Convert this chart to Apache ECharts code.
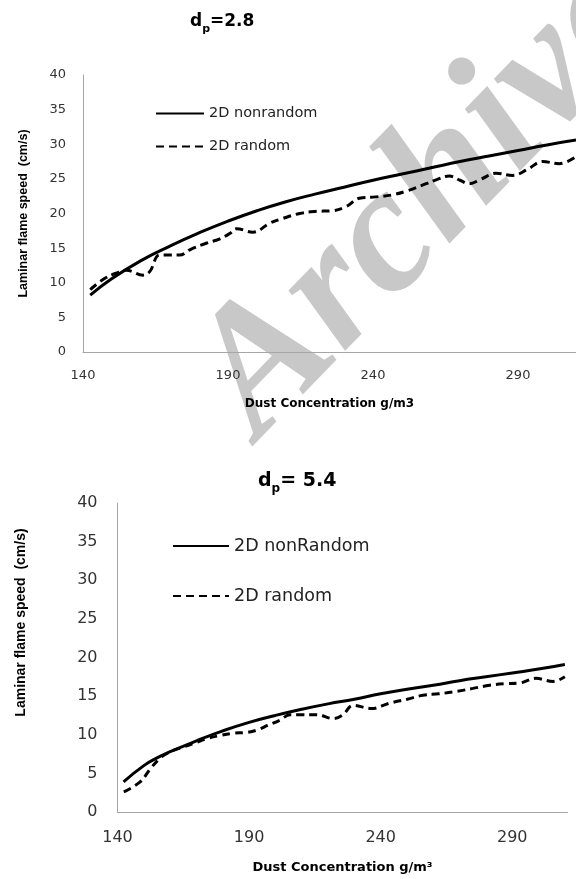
<!DOCTYPE html>
<html>
<head>
<meta charset="utf-8">
<script src="https://cdn.jsdelivr.net/npm/echarts@6/dist/echarts.min.js"></script>
<style>
  html, body { margin: 0; padding: 0; background: #fff; }
  #chart { width: 576px; height: 879px; }
</style>
</head>
<body>
<div id="chart"></div>
<script>
// d_p = 2.8
const topSolidX = [142.5, 150, 160, 170, 180, 190, 200, 210, 220, 230, 240, 250, 260, 270, 280, 290, 300, 310];
const topSolidY = [8.2, 10.6, 13.2, 15.3, 17.2, 18.9, 20.4, 21.7, 22.8, 23.8, 24.8, 25.7, 26.6, 27.5, 28.3, 29.1, 29.9, 30.6];
const topRandX = [142.5, 147, 151.5, 155, 160.7, 163, 166.4, 170, 173.3, 177, 182.5, 187, 190.6, 193, 198.6, 204.4, 209, 214.7, 220, 226, 230.7, 235.3, 241, 246.8, 252, 258.3, 262, 266.3, 270, 273.2, 277, 282.4, 288.2, 293, 298.5, 304.2, 310];
const topRandY = [9.0, 10.5, 11.4, 11.8, 11.1, 11.6, 14.0, 14.0, 14.0, 14.8, 15.7, 16.3, 17.1, 17.8, 17.3, 18.6, 19.3, 20.0, 20.3, 20.4, 21.0, 22.2, 22.4, 22.7, 23.3, 24.3, 24.9, 25.4, 24.8, 24.3, 24.9, 25.8, 25.5, 26.3, 27.5, 27.2, 28.2];

// d_p = 5.4
const botSolidX = [142.3, 150, 155, 160, 170, 180, 190, 200, 210, 220, 230, 240, 250, 260, 270, 280, 290, 300, 310];
const botSolidY = [3.9, 6.0, 7.0, 7.8, 9.2, 10.5, 11.6, 12.5, 13.3, 14.0, 14.6, 15.3, 15.9, 16.4, 17.0, 17.5, 18.0, 18.5, 19.1];
const botRandX = [142.4, 148.6, 152.5, 156.3, 160, 165, 170, 174, 179, 184, 189, 193, 197, 201.8, 205.6, 210, 215.7, 222, 225.7, 229.5, 236.5, 243.5, 250, 256, 262, 268.8, 275, 281.4, 287, 292.8, 299, 305.5, 310];
const botRandY = [2.6, 3.9, 5.6, 7.0, 7.8, 8.4, 9.0, 9.5, 9.9, 10.2, 10.3, 10.6, 11.2, 11.9, 12.6, 12.6, 12.6, 12.1, 12.6, 13.8, 13.4, 14.1, 14.6, 15.1, 15.3, 15.6, 16.0, 16.4, 16.6, 16.7, 17.3, 16.9, 17.5];

const topNames = ['2D nonrandom', '2D random'];
const botNames = ['2D nonRandom', '2D random'];
const yName = 'Laminar flame speed  (cm/s)';

const pairs = function (xs, ys) {
  return xs.map(function (x, i) { return [x, ys[i]]; });
};

const myChart = echarts.init(document.getElementById('chart'));
const labelFont = 'DejaVu Sans';

const xAxisBase = function (idx, max, fontSize, margin, name, nameSize, gap) {
  return {
    type: 'value',
    gridIndex: idx,
    min: 140,
    max: max,
    interval: 50,
    name: name,
    nameLocation: 'middle',
    nameGap: gap,
    nameTextStyle: { fontFamily: labelFont, fontWeight: 'bold', fontSize: nameSize, color: '#000' },
    axisLine: { lineStyle: { color: '#a6a6a6', width: 1 } },
    axisTick: { show: false },
    splitLine: { show: false },
    axisLabel: { showMaxLabel: false, margin: margin, fontFamily: labelFont, fontSize: fontSize, color: '#333' }
  };
};
const yAxisBase = function (idx, fontSize, margin, nameSize, gap, pad) {
  return {
    type: 'value',
    gridIndex: idx,
    min: 0,
    max: 40,
    interval: 5,
    name: yName,
    nameLocation: 'middle',
    nameGap: gap,
    nameTextStyle: { fontFamily: 'Liberation Sans', fontWeight: 'bold', fontSize: nameSize, color: '#000', padding: pad },
    axisLine: { show: true, lineStyle: { color: '#a6a6a6', width: 1 } },
    axisTick: { show: false },
    splitLine: { show: false },
    axisLabel: { margin: margin, fontFamily: labelFont, fontSize: fontSize, color: '#333' }
  };
};

// hide the dot ECharts puts in the middle of line legend icons
const noDot = { color: 'transparent', borderColor: 'transparent', borderWidth: 0, opacity: 0 };

const option = {
  backgroundColor: '#fff',
  animation: false,
  title: [
    {
      text: '{a|d}{b|p}{a|=2.8}',
      left: 185,
      top: 4,
      textStyle: {
        rich: {
          a: { fontFamily: labelFont, fontWeight: 'bold', fontSize: 17, color: '#000', lineHeight: 26, verticalAlign: 'middle' },
          b: { fontFamily: labelFont, fontWeight: 'bold', fontSize: 11, color: '#000', lineHeight: 26, verticalAlign: 'bottom', padding: [10, 0, 0, 0] }
        }
      }
    },
    {
      text: '{a|d}{b|p}{a|= 5.4}',
      left: 253,
      top: 462,
      textStyle: {
        rich: {
          a: { fontFamily: labelFont, fontWeight: 'bold', fontSize: 19, color: '#000', lineHeight: 28, verticalAlign: 'middle' },
          b: { fontFamily: labelFont, fontWeight: 'bold', fontSize: 12, color: '#000', lineHeight: 28, verticalAlign: 'bottom', padding: [11, 0, 0, 0] }
        }
      }
    }
  ],
  legend: [
    {
      data: topNames,
      orient: 'vertical',
      left: 150,
      top: 101,
      itemWidth: 48,
      itemHeight: 14,
      itemGap: 18,
      itemStyle: noDot,
      textStyle: { fontFamily: labelFont, fontSize: 14.5, color: '#222' }
    },
    {
      data: botNames,
      orient: 'vertical',
      left: 167,
      top: 532,
      itemWidth: 56,
      itemHeight: 16,
      itemGap: 32,
      itemStyle: noDot,
      textStyle: { fontFamily: labelFont, fontSize: 17.5, color: '#222' }
    }
  ],
  grid: [
    { left: 83, top: 75, width: 493, height: 277 },
    { left: 117.5, top: 503, width: 450, height: 309 }
  ],
  xAxis: [
    xAxisBase(0, 310, 13, 17, 'Dust Concentration g/m3', 12, 46),
    xAxisBase(1, 311, 16, 18, 'Dust Concentration g/m\u00b3', 13, 49)
  ],
  yAxis: [
    yAxisBase(0, 13, 17, 12.5, 53, [0, 0, 0, 0]),
    yAxisBase(1, 16, 20, 14, 89, [0, 0, 0, 70])
  ],
  graphic: [
    {
      type: 'text',
      x: 290,
      y: 470,
      rotation: 0.8,
      z: -10,
      style: {
        text: 'Archive',
        font: 'italic bold 180px "Liberation Serif"',
        fill: '#c8c8c8',
        verticalAlign: 'bottom'
      }
    }
  ],
  series: [
    {
      name: topNames[0], type: 'line', xAxisIndex: 0, yAxisIndex: 0,
      symbol: 'none', smooth: true, data: pairs(topSolidX, topSolidY),
      lineStyle: { color: '#000', width: 3 }, itemStyle: { color: '#000' }
    },
    {
      name: topNames[1], type: 'line', xAxisIndex: 0, yAxisIndex: 0,
      symbol: 'none', smooth: 0.4, data: pairs(topRandX, topRandY),
      lineStyle: { color: '#000', width: 3, type: [8, 5] }, itemStyle: { color: '#000' }
    },
    {
      name: botNames[0], type: 'line', xAxisIndex: 1, yAxisIndex: 1,
      symbol: 'none', smooth: true, data: pairs(botSolidX, botSolidY),
      lineStyle: { color: '#000', width: 3 }, itemStyle: { color: '#000' }
    },
    {
      name: botNames[1], type: 'line', xAxisIndex: 1, yAxisIndex: 1,
      symbol: 'none', smooth: 0.4, data: pairs(botRandX, botRandY),
      lineStyle: { color: '#000', width: 3, type: [8, 5] }, itemStyle: { color: '#000' }
    }
  ]
};
myChart.setOption(option);
</script>
</body>
</html>
